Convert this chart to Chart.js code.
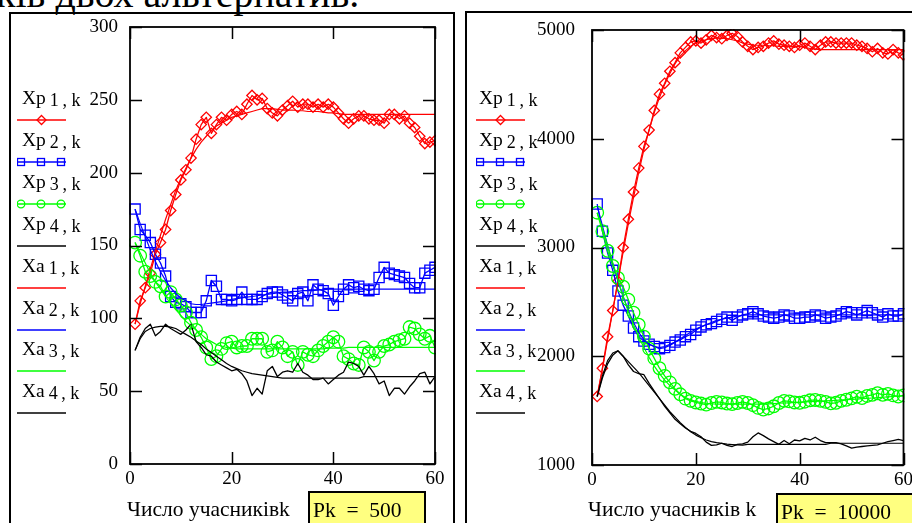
<!DOCTYPE html>
<html><head><meta charset="utf-8">
<script src="https://cdn.jsdelivr.net/npm/chart.js@4.4.1/dist/chart.umd.min.js"></script>
<style>
html,body{margin:0;padding:0;width:912px;height:523px;overflow:hidden;background:#fff;font-family:"Liberation Serif","Times New Roman",serif;color:#000;}
#title{position:absolute;left:-4px;top:-26px;font-size:40px;line-height:40px;white-space:nowrap;}
.box{position:absolute;border:2px solid #000;box-sizing:border-box;}
.leg{position:absolute;font-size:19.5px;line-height:19px;white-space:nowrap;}
.leg .s{font-size:18px;position:relative;top:2px;margin-left:4px;}
.sw{position:absolute;}
.axt{position:absolute;font-size:21.5px;line-height:22px;white-space:nowrap;}
.pk{position:absolute;background:#ffff80;border:2px solid #000;box-sizing:border-box;font-size:21.5px;line-height:24px;white-space:pre;padding-left:3px;padding-top:5px;}
canvas{position:absolute;}
</style></head><body>
<div id="title">ків двох альтернатив.</div>
<div class="box" style="left:9px;top:12px;width:446px;height:530px;"></div>
<div class="box" style="left:465px;top:11px;width:470px;height:530px;"></div>
<canvas id="cL" width="385" height="485" style="left:60px;top:15px;"></canvas>
<canvas id="cR" width="417" height="485" style="left:495px;top:15px;"></canvas>
<div id="legL"></div><div id="legR"></div>
<div class="axt" style="left:127px;top:498px;">Число учасниківk</div>
<div class="pk" id="pkL" style="left:308px;top:491px;width:118px;height:40px;"></div>
<div class="axt" style="left:588px;top:498px;">Число учасників k</div>
<div class="pk" id="pkR" style="left:776px;top:493px;width:150px;height:40px;"></div>
<script>
// ---- data ----
const kVals = [1,2,3,4,5,6,7,8,9,10,11,12,13,14,15,16,17,18,19,20,21,22,23,24,25,26,27,28,29,30,31,32,33,34,35,36,37,38,39,40,41,42,43,44,45,46,47,48,49,50,51,52,53,54,55,56,57,58,59,60];
const seriesNames = ["Xp","Xp","Xp","Xp","Xa","Xa","Xa","Xa"];
const seriesSubs = ["1\u2009, k","2\u2009, k","3\u2009, k","4\u2009, k","1\u2009, k","2\u2009, k","3\u2009, k","4\u2009, k"];
const xTicksStep = 20;
const leftYTicks = [0,300,50];
const rightYTicks = [1000,5000,1000];
const leftPk = "Pk  =  500";
const rightPk = "Pk  =  10000";

// left panel (Pk = 500)
const L_Xp1 = [96,112,121,131,144,152,161,174,185,195,202,210,223,233,238,227,233,238,236,240,242,240,247,253,250,251,244,241,239,243,246,249,245,247,247,245,247,245,247,245,241,237,234,237,239,239,237,236,236,234,240,240,237,239,234,231,225,220,221,222];
const L_Xp2 = [175,161,157,152,144,138,129,115,111,110,108,104,104,104,112,126,122,113,113,112,113,118,113,113,113,115,117,118,118,116,114,112,117,118,112,123,120,119,117,109,115,120,123,121,122,120,119,120,128,135,131,130,129,128,124,121,121,131,133,135];
const L_Xp3 = [152,143,132,129,125,122,115,118,113,109,104,97,92,87,80,72,74,79,83,84,80,81,81,86,86,86,77,78,84,80,74,77,68,77,75,74,78,81,84,87,84,74,72,69,68,80,77,71,77,81,82,84,85,86,94,93,89,86,88,80];
const L_Xp4 = [78,87,93,96,88,91,96,93,91,89,92,96,84,80,75,74,70,68,66,64,65,62,57,47,52,48,64,67,60,63,64,63,69,63,61,58,58,59,55,58,61,63,70,69,67,61,67,62,55,57,47,52,52,48,53,57,62,63,55,60];
const L_Xa1 = [96,110,122,134,146,157,168,178,188,196,203,210,216,221,225,229,232,234,236,238,239,240,241,242,243,244,244,244,243.5,243,243,243,242.5,242.5,242,242,242,241.5,241,241,240.5,240,240,240,240,240,240,240,240,240,240,240,240,240,240,240,240,240,240,240];
const L_Xa2 = [175,165,156,147,139,132,126,121,117,114,112,110,109.5,109.5,110,110.5,111,111.5,112,113,113.5,114,114.5,115,115.5,116,116.5,117,117.5,118,118,118.5,118.5,119,119,119,119.5,119.5,120,120,120,120,120,120,120,120,120,120,120,120,120,120,120,120,120,120,120,120,120,120];
const L_Xa3 = [152,145,138,131,125,120,115,110,106,102,98,95,92,89,86,84,82,81,80,79.5,79,79,79,79,79,79,79,79,79,79,79,79,79,79,79,79,79,79,79.5,79.5,79.5,79.5,80,80,80,80,80,80,80,80,80,80,80,80,80,80,80,80,80,80];
const L_Xa4 = [78,86,91,93,94,94.5,94.5,94,93,91,89,87,84.5,82,79,76.5,74,71.5,69,67,65.5,64,63,62,61.5,61,60.5,60,59.5,59,59,59,59,59,59,59,59,59,59,59,59,59,59,59,59,60,60,60,60,60,60,60,60,60,60,60,60,60,60,60];

// right panel (Pk = 10000)
const R_Xp1 = [1630,1890,2180,2420,2690,3000,3260,3510,3730,3930,4080,4260,4410,4510,4620,4700,4790,4840,4890,4900,4880,4910,4950,4930,4920,4950,4970,4940,4890,4850,4820,4840,4850,4880,4900,4870,4860,4850,4840,4860,4880,4850,4820,4860,4890,4890,4880,4880,4880,4880,4860,4850,4830,4800,4830,4790,4780,4820,4790,4770];
const R_Xp2 = [3400,3150,2950,2790,2600,2470,2370,2260,2180,2140,2110,2090,2070,2080,2100,2130,2150,2180,2200,2240,2270,2290,2300,2320,2340,2360,2330,2360,2380,2390,2410,2390,2370,2360,2350,2360,2380,2370,2350,2350,2360,2360,2380,2370,2350,2360,2370,2390,2410,2400,2380,2400,2420,2400,2380,2360,2390,2370,2370,2390];
const R_Xp3 = [3320,3150,2970,2830,2720,2640,2520,2400,2290,2180,2070,1980,1890,1820,1760,1700,1650,1610,1590,1575,1565,1555,1570,1580,1575,1565,1560,1570,1580,1570,1550,1525,1510,1520,1540,1570,1590,1585,1575,1572,1582,1595,1598,1590,1580,1567,1572,1590,1600,1613,1628,1615,1635,1645,1660,1645,1654,1640,1630,1640];
const R_Xp4 = [1630,1800,1930,2010,2050,2000,1920,1860,1840,1830,1750,1680,1610,1540,1480,1420,1380,1340,1310,1290,1260,1210,1180,1185,1200,1180,1170,1190,1195,1210,1260,1295,1270,1240,1215,1190,1225,1195,1230,1222,1245,1230,1255,1225,1205,1205,1205,1195,1175,1155,1165,1170,1175,1180,1185,1200,1215,1225,1235,1225];
const R_Xa1 = [1630,1880,2150,2420,2690,2960,3220,3460,3690,3900,4080,4240,4380,4500,4600,4690,4760,4810,4850,4880,4900,4910,4920,4925,4925,4920,4910,4900,4880,4870,4860,4860,4860,4855,4855,4850,4850,4850,4850,4850,4840,4830,4825,4820,4820,4820,4820,4820,4820,4820,4820,4820,4820,4820,4820,4820,4820,4820,4820,4820];
const R_Xa2 = [3380,3200,3020,2850,2690,2550,2420,2310,2220,2150,2110,2090,2080,2090,2110,2130,2160,2190,2220,2250,2270,2290,2310,2330,2340,2350,2360,2370,2375,2380,2380,2380,2380,2380,2380,2380,2380,2380,2380,2380,2380,2380,2380,2380,2380,2380,2380,2380,2380,2380,2380,2380,2380,2380,2380,2380,2380,2380,2380,2380];
const R_Xa3 = [3320,3180,3020,2860,2700,2550,2410,2290,2180,2080,1990,1910,1840,1780,1730,1690,1650,1620,1600,1585,1575,1568,1563,1560,1560,1560,1560,1560,1560,1560,1560,1560,1560,1562,1565,1568,1570,1572,1575,1578,1580,1582,1585,1588,1590,1592,1595,1598,1600,1603,1606,1610,1613,1616,1620,1623,1626,1630,1633,1636];
const R_Xa4 = [1630,1820,1960,2030,2050,2000,1950,1900,1850,1790,1730,1670,1610,1550,1490,1440,1390,1345,1305,1275,1250,1230,1215,1205,1198,1192,1188,1185,1183,1190,1190,1190,1190,1190,1190,1190,1190,1190,1190,1190,1190,1190,1190,1190,1190,1200,1200,1200,1200,1200,1200,1200,1200,1200,1200,1200,1200,1200,1200,1200];

// ---- styles ----
const RED='#ff0000', BLUE='#0000ff', GREEN='#00ff00', BLACK='#000000';
const styles = [
  {c:RED, ps:'rectRot', r:5.2},
  {c:BLUE, ps:'rect', r:7.2},
  {c:GREEN, ps:'circle', r:6.3},
  {c:BLACK, ps:false, r:0},
  {c:RED, ps:false, r:0},
  {c:BLUE, ps:false, r:0},
  {c:GREEN, ps:false, r:0},
  {c:BLACK, ps:false, r:0}
];

function pts(arr){ return kVals.map((k,i)=>({x:k,y:arr[i]})); }
function makeSets(list){
  return list.map((arr,i)=>{
    const s=styles[i];
    return {
      data:pts(arr), borderColor:s.c, backgroundColor:'transparent',
      borderWidth: i<4?1.3:1.2, pointStyle:s.ps||'circle', pointRadius:s.r,
      pointBorderColor:s.c, pointBackgroundColor:'rgba(0,0,0,0)', pointBorderWidth:1.3,
      tension:0, order:8-i, clip:1
    };
  });
}

const frame = {
  id:'frame',
  afterDatasetsDraw(chart){
    const {ctx, chartArea:a, scales:{x,y}} = chart;
    ctx.save();
    ctx.strokeStyle='#000'; ctx.lineWidth=1.8;
    ctx.strokeRect(a.left, a.top, a.right-a.left, a.bottom-a.top);
    ctx.lineWidth=1.5;
    const L=12;
    ctx.beginPath();
    y.ticks.forEach(t=>{const py=Math.round(y.getPixelForValue(t.value))+0.5; ctx.moveTo(a.left,py); ctx.lineTo(a.left+L,py); ctx.moveTo(a.right,py); ctx.lineTo(a.right-L,py);});
    x.ticks.forEach(t=>{const px=Math.round(x.getPixelForValue(t.value))+0.5; ctx.moveTo(px,a.top); ctx.lineTo(px,a.top+L); ctx.moveTo(px,a.bottom); ctx.lineTo(px,a.bottom-L);});
    ctx.stroke(); ctx.restore();
  }
};

function makeChart(id, sets, yt, yW, xH, pad, yPad){
  const font={family:'"Liberation Serif","Times New Roman",serif', size:19};
  return new Chart(document.getElementById(id), {
    type:'line',
    data:{datasets:makeSets(sets)},
    options:{
      responsive:false, animation:false, devicePixelRatio:1,
      layout:{padding:pad},
      plugins:{legend:{display:false}, tooltip:{enabled:false}},
      elements:{line:{borderJoinStyle:'round'}},
      scales:{
        x:{type:'linear', min:0, max:60, position:'bottom',
          grid:{display:false, drawTicks:false}, border:{display:false},
          ticks:{stepSize:xTicksStep, color:'#000', font, padding:4, maxRotation:0, callback:v=>String(v)},
          afterFit(s){ s.height=xH; s.paddingLeft=0; s.paddingRight=0; }},
        y:{type:'linear', min:yt[0], max:yt[1], position:'left',
          grid:{display:false, drawTicks:false}, border:{display:false},
          ticks:{stepSize:yt[2], color:'#000', font, padding:yPad, callback:v=>String(v)},
          afterFit(s){ s.width=yW; s.paddingTop=0; s.paddingBottom=0; }}
      }
    },
    plugins:[frame]
  });
}

makeChart('cL', [L_Xp1,L_Xp2,L_Xp3,L_Xp4,L_Xa1,L_Xa2,L_Xa3,L_Xa4], leftYTicks, 70, 36, {top:12,right:10,left:0,bottom:0}, 12);
makeChart('cR', [R_Xp1,R_Xp2,R_Xp3,R_Xp4,R_Xa1,R_Xa2,R_Xa3,R_Xa4], rightYTicks, 97, 35, {top:15,right:5,left:0,bottom:0}, 17);

document.getElementById('pkL').textContent = leftPk;
document.getElementById('pkR').textContent = rightPk;

// ---- legends ----
function swatch(i){
  const s=styles[i];
  let g=`<line x1="0" y1="6" x2="49" y2="6" stroke="${s.c}" stroke-width="1.4"/>`;
  if(i===0){ g+=`<path d="M24.5 1.5 L29 6 L24.5 10.5 L20 6 Z" fill="none" stroke="${s.c}" stroke-width="1.3"/>`; }
  if(i===1){ [4,24,44].forEach(cx=>{ g+=`<rect x="${cx-3.5}" y="2.5" width="7" height="7" fill="none" stroke="${s.c}" stroke-width="1.3"/>`; }); }
  if(i===2){ [4,24,44].forEach(cx=>{ g+=`<circle cx="${cx}" cy="6" r="3.8" fill="none" stroke="${s.c}" stroke-width="1.3"/>`; }); }
  return `<svg width="50" height="12">${g}</svg>`;
}
function buildLegend(el, lineX, textX){
  let h='';
  for(let i=0;i<8;i++){
    const ly=118+i*41.9;
    h+=`<div class="leg" style="left:${textX}px;top:${(ly-30).toFixed(1)}px;">${seriesNames[i]}<span class="s">${seriesSubs[i]}</span></div>`;
    h+=`<div class="sw" style="left:${lineX}px;top:${(ly-6).toFixed(1)}px;">${swatch(i)}</div>`;
  }
  document.getElementById(el).innerHTML=h;
}
buildLegend('legL',17,22);
buildLegend('legR',476,479);
</script>
</body></html>
